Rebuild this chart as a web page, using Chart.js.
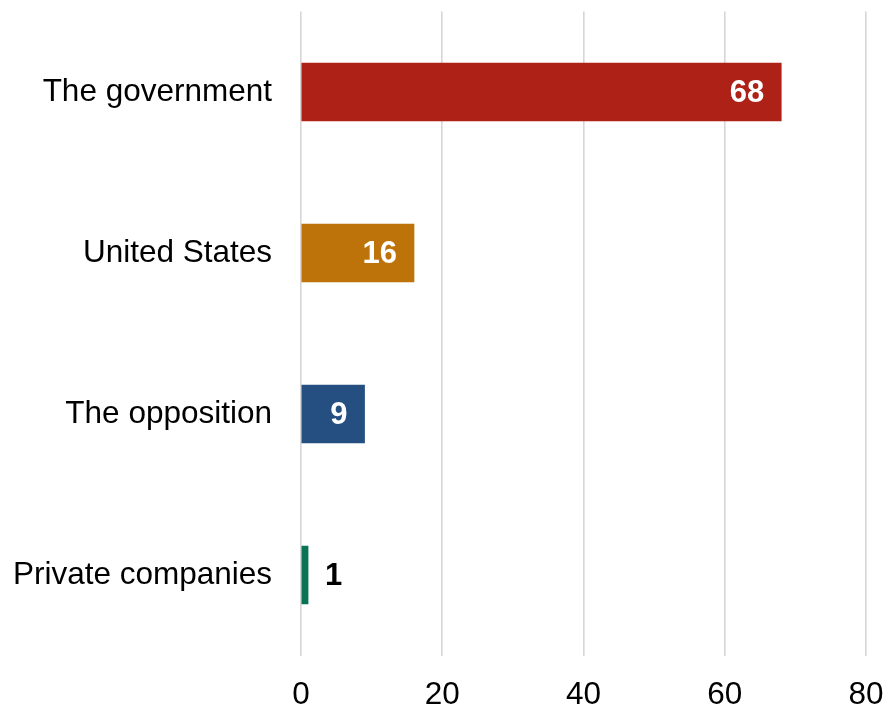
<!DOCTYPE html>
<html>
<head>
<meta charset="utf-8">
<script src="https://cdn.jsdelivr.net/npm/chart.js@4"></script>
<style>
  html, body { margin: 0; padding: 0; background: #ffffff; }
  #wrap { width: 890px; height: 708px; position: relative; }
</style>
</head>
<body>
<div id="wrap"><canvas id="c"></canvas></div>
<script>
const categories = ["The government", "United States", "The opposition", "Private companies"];
const values = [68, 16, 9, 1];
const barColors = ["#AE2116", "#BD7309", "#244F80", "#0A7356"];
const xTicks = [0, 20, 40, 60, 80];

const FONT = "'Liberation Sans', Arial, Helvetica, sans-serif";

const valueLabels = {
  id: 'valueLabels',
  afterDatasetsDraw(chart) {
    const ctx = chart.ctx;
    const meta = chart.getDatasetMeta(0);
    ctx.save();
    ctx.font = "bold 31px " + FONT;
    ctx.textBaseline = 'middle';
    meta.data.forEach((bar, i) => {
      const v = values[i];
      const w = bar.x - bar.base;
      if (w > 40) {
        ctx.fillStyle = '#ffffff';
        ctx.textAlign = 'right';
        ctx.fillText(String(v), bar.x - 17, bar.y + 1);
      } else {
        ctx.fillStyle = '#000000';
        ctx.textAlign = 'left';
        ctx.fillText(String(v), bar.x + 17, bar.y + 1);
      }
    });
    ctx.restore();
  }
};

new Chart(document.getElementById('c'), {
  type: 'bar',
  data: {
    labels: categories,
    datasets: [{
      data: values,
      backgroundColor: barColors,
      borderWidth: 0,
      barThickness: 58
    }]
  },
  options: {
    indexAxis: 'y',
    responsive: true,
    maintainAspectRatio: false,
    animation: false,
    layout: { padding: { top: 11.5, right: 24, left: 0, bottom: 0 } },
    plugins: { legend: { display: false }, tooltip: { enabled: false } },
    scales: {
      x: {
        min: 0, max: 80,
        afterBuildTicks(scale) { scale.ticks = xTicks.map(v => ({ value: v })); },
        afterFit(scale) {
          scale.height = 52.5;
          scale.paddingLeft = 0; scale.paddingRight = 0;
          scale.paddingTop = 0; scale.paddingBottom = 0;
        },
        grid: { color: '#d6d6d6', lineWidth: 1.6, drawTicks: false },
        border: { display: false },
        ticks: { color: '#000000', font: { family: FONT, size: 31.5 }, padding: 21, maxRotation: 0 }
      },
      y: {
        afterFit(scale) {
          scale.width = 301;
          scale.paddingLeft = 0; scale.paddingRight = 0;
          scale.paddingTop = 0; scale.paddingBottom = 0;
        },
        grid: { display: false, drawTicks: false },
        border: { display: false },
        ticks: { color: '#000000', font: { family: FONT, size: 31.5 }, padding: 29 }
      }
    }
  },
  plugins: [valueLabels]
});
</script>
</body>
</html>
